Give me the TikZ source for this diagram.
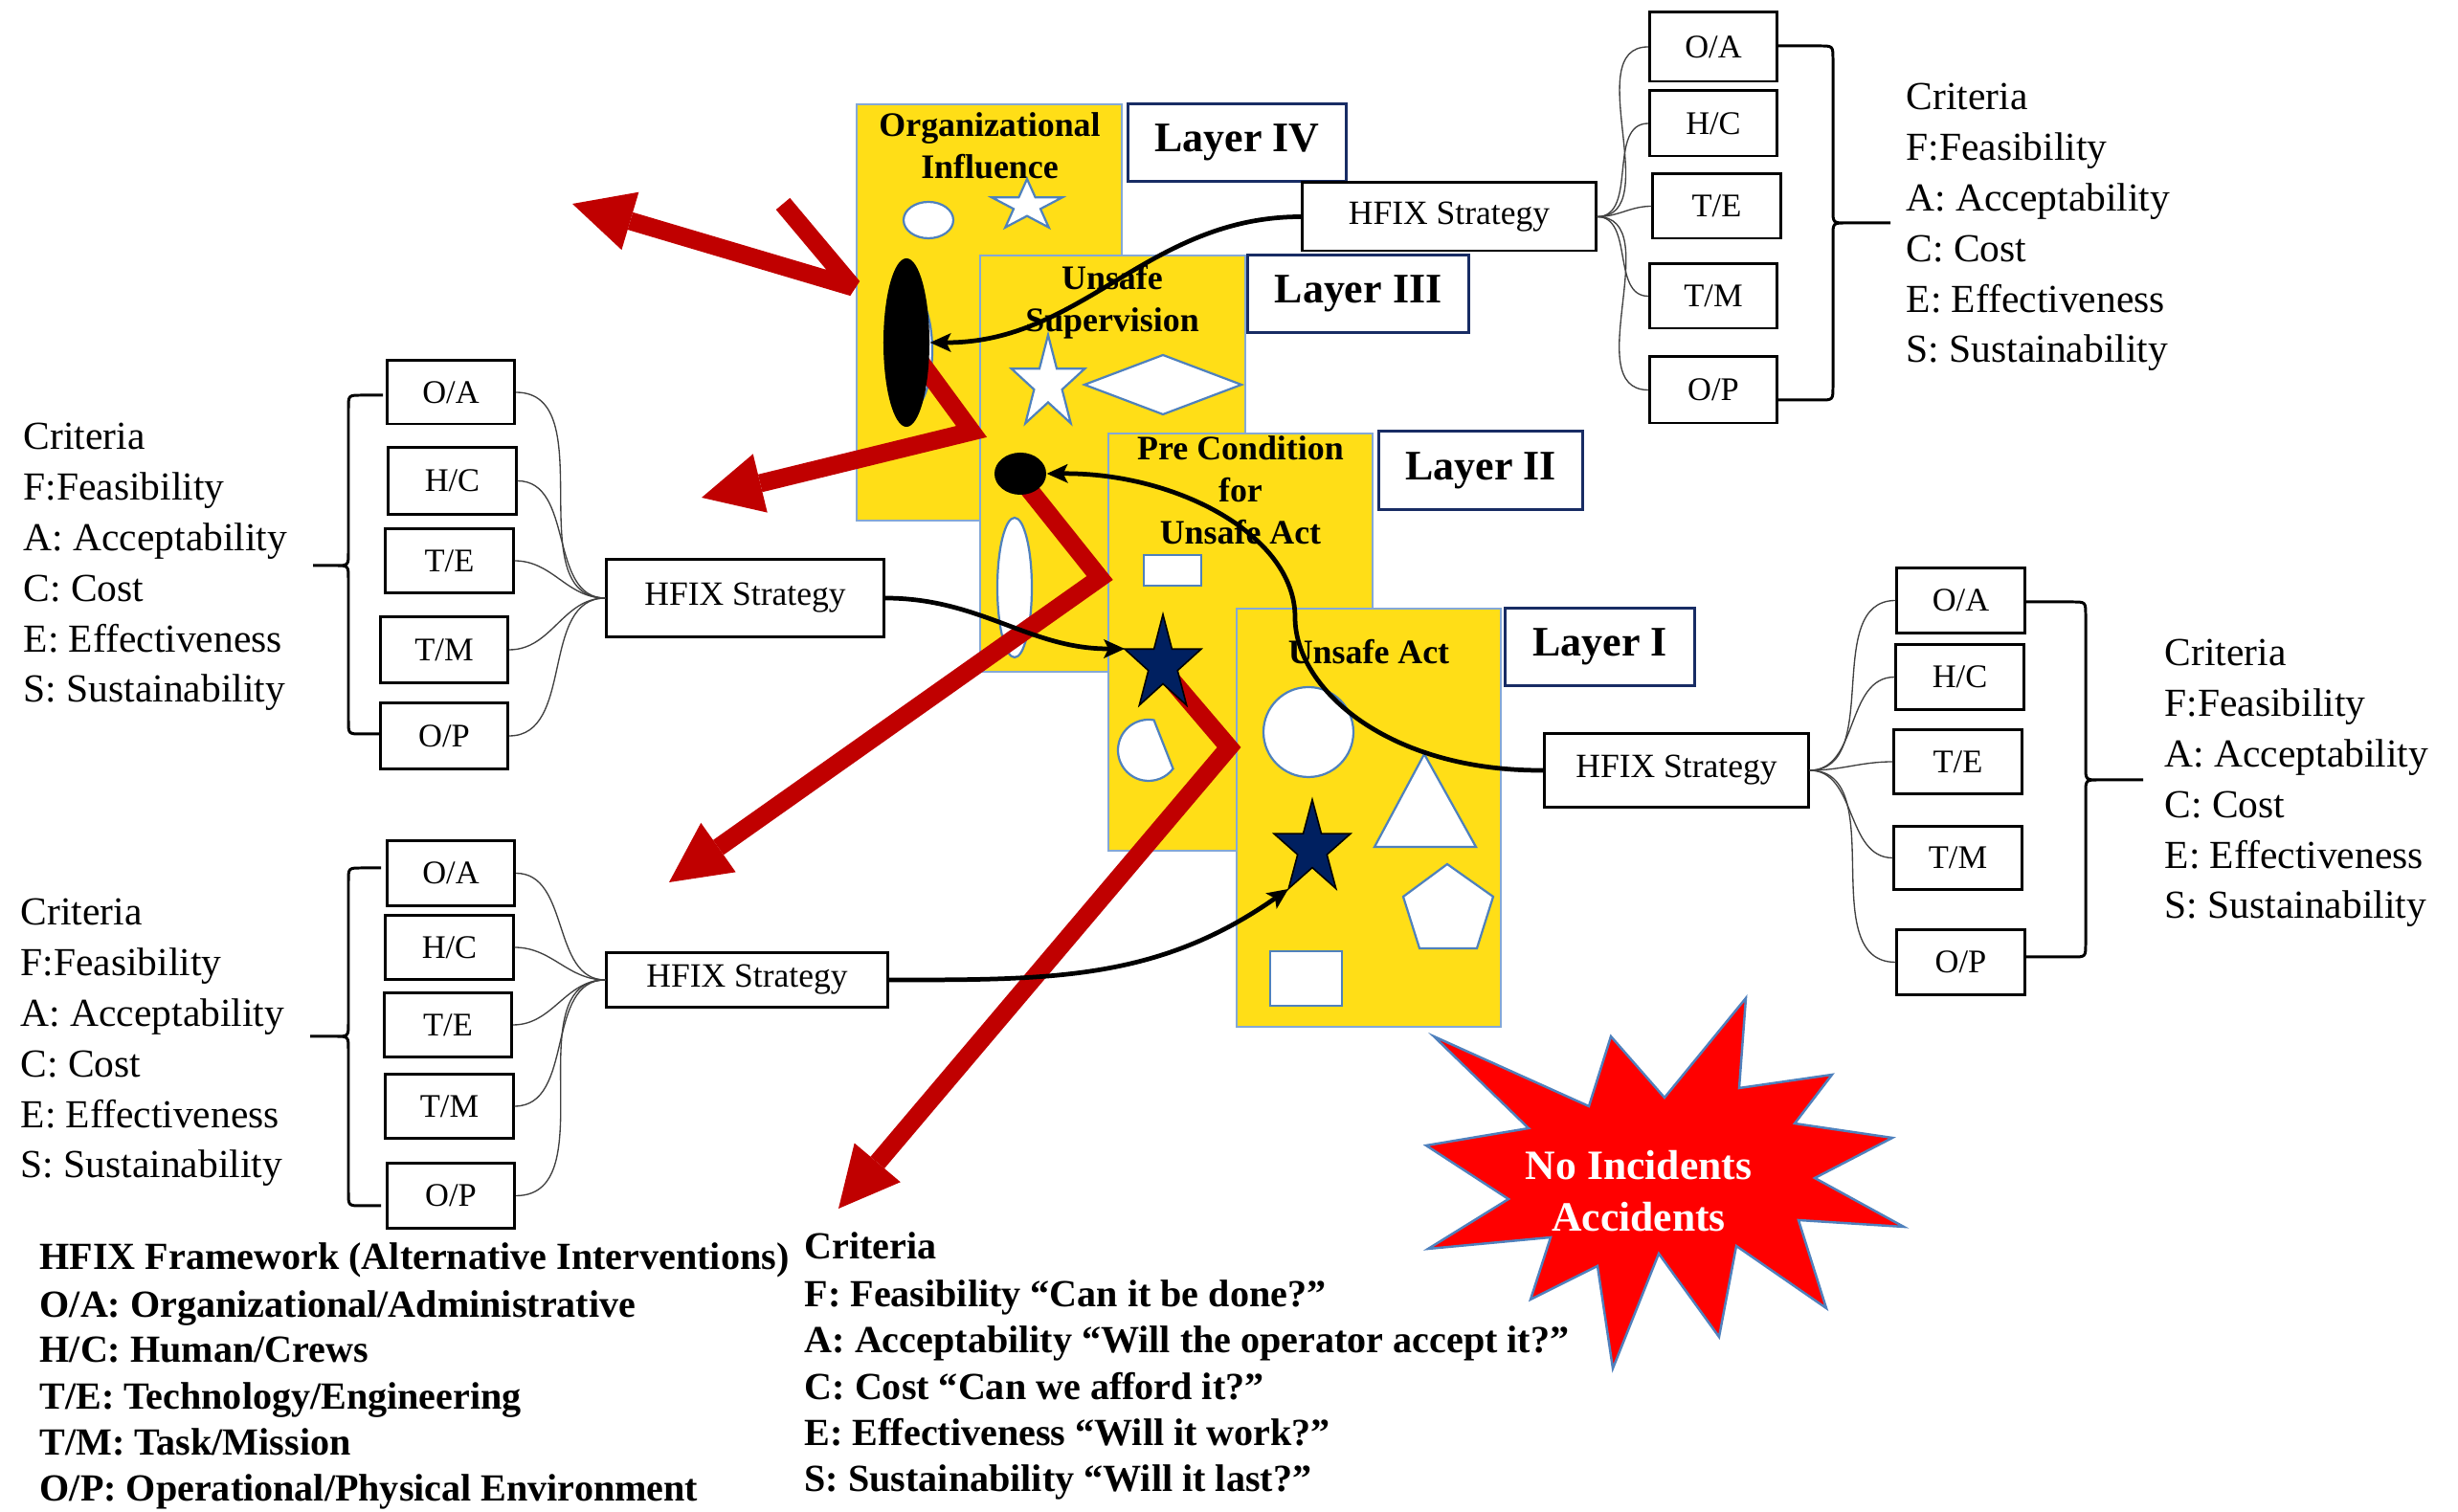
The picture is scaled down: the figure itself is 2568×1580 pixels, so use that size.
\documentclass[tikz,border=0pt]{standalone}
\usepackage{fontspec}
\setmainfont{Liberation Serif}
\usetikzlibrary{arrows.meta,shapes.geometric}

\definecolor{paneyellow}{RGB}{255,222,23}
\definecolor{paneedge}{RGB}{132,168,214}
\definecolor{shapeedge}{RGB}{79,129,189}
\definecolor{navyfill}{RGB}{0,32,96}
\definecolor{tagedge}{RGB}{24,44,100}
\definecolor{pathred}{RGB}{192,0,0}
\definecolor{burstred}{RGB}{255,0,0}

\tikzset{
  pane/.style={fill=paneyellow, draw=paneedge, line width=0.57pt},
  wshape/.style={fill=white, draw=shapeedge, line width=0.63pt},
  navystar/.style={fill=navyfill, draw=black, line width=0.45pt},
  layertag/.style={draw=tagedge, fill=white, line width=0.85pt, inner sep=0pt,
    font=\fontsize{12.5}{15}\selectfont\bfseries},
  hfix/.style={draw=black, fill=white, line width=0.85pt, inner sep=0pt,
    font=\fontsize{10.1}{12}\selectfont},
  optbox/.style={draw=black, fill=white, line width=0.85pt, inner sep=0pt,
    minimum width=1.33cm, font=\fontsize{9.8}{12}\selectfont},
  fan/.style={draw=black!75, line width=0.38pt},
  bracepath/.style={draw=black, line width=0.85pt},
  crittext/.style={font=\fontsize{11.8}{14}\selectfont, inner sep=0pt, anchor=base west},
  legendtext/.style={font=\fontsize{11.4}{13}\selectfont\bfseries, inner sep=0pt, anchor=base west},
  panetitle/.style={font=\fontsize{10.2}{12}\selectfont\bfseries, inner sep=0pt, anchor=base},
  bursttext/.style={font=\fontsize{12.4}{14}\selectfont\bfseries, text=white, inner sep=0pt, anchor=base},
  redpath/.style={draw=pathred, line width=5.4pt, miter limit=2.5,
    -{Triangle[length=0.63cm,width=0.63cm,line width=0pt]}},
  strategylink/.style={draw=black, line width=1.35pt,
    -{Stealth[length=0.22cm,width=0.2cm,inset=0.05cm,line width=0pt]}},
  burst/.style={fill=burstred, draw=shapeedge, line width=0.7pt},
}

% five-pointed star: centre x, centre y, outer radius, horizontal stretch, style
\newcommand\fivestar[5]{%
  \begin{scope}[shift={(#1,#2)}, x={(#4*0.01cm,0cm)}, y={(0cm,0.01cm)}]
    \path[#5] (90:#3) -- (126:{0.382*#3}) -- (162:#3) -- (198:{0.382*#3})
      -- (234:#3) -- (270:{0.382*#3}) -- (306:#3) -- (342:{0.382*#3})
      -- (18:#3) -- (54:{0.382*#3}) -- cycle;
  \end{scope}}

% curly bracket: x top end, x bottom end, x spine, x tip, y top, y tip, y bottom, side (+1 right / -1 left)
\newcommand\criteriabrace[8]{%
  \draw[bracepath] (#1,#5) -- ({#3-14*(#8)},#5) .. controls (#3,#5) .. (#3,{#5+14})
      -- (#3,{#6-14}) .. controls (#3,#6) .. ({#3+14*(#8)},#6) -- (#4,#6)
    (#4,#6) -- ({#3+14*(#8)},#6) .. controls (#3,#6) .. (#3,{#6+14})
      -- (#3,{#7-14}) .. controls (#3,#7) .. ({#3-14*(#8)},#7) -- (#2,#7);}

% criteria list: name prefix, left x, first baseline y
\newcommand\criteriatext[3]{%
  \foreach \txt [count=\ii from 0] in {Criteria,F:Feasibility,A: Acceptability,C: Cost,E: Effectiveness,S: Sustainability}
    \node[crittext] (#1-\ii) at (#2,{#3+52.8*\ii}) {\txt};}

\begin{document}
\begin{tikzpicture}[x=0.01cm, y=-0.01cm]
\fill[white] (0,0) rectangle (2568,1580);
\useasboundingbox (0,0) rectangle (2568,1580);

% ---- Layer IV pane: Organizational Influence
\path[pane] (895,109) rectangle (1172,544);
\node[panetitle] (t4a) at (1034,143) {Organizational};
\node[panetitle] (t4b) at (1034,187) {Influence};
\path[wshape] (970,230) ellipse[x radius=26, y radius=19];
\fivestar{1073}{215}{28}{1.38}{wshape}
\path[wshape] (951,366) ellipse[x radius=23, y radius=62];

% ---- Layer III pane: Unsafe Supervision
\path[pane] (1024,267) rectangle (1301,702);
\node[panetitle] (t3a) at (1162,303) {Unsafe};
\node[panetitle] (t3b) at (1162,347) {Supervision};
\fivestar{1095}{401}{51}{0.79}{wshape}
\path[wshape] (1133,402) -- (1215,371) -- (1297,402) -- (1215,433) -- cycle;
\path[wshape] (1060,614) ellipse[x radius=18, y radius=73];

% ---- Layer II pane: Pre Condition for Unsafe Act
\path[pane] (1158,453) rectangle (1434,889);
\node[panetitle] (t2a) at (1296,481) {Pre Condition};
\node[panetitle] (t2b) at (1296,525) {for};
\node[panetitle] (t2c) at (1296,569) {Unsafe Act};
\path[wshape] (1195,580) rectangle (1255,612);
\begin{scope}[shift={(1200,784)}, y={(0cm,0.01cm)}]
  \path[wshape] (80:32) arc[start angle=80, end angle=323, radius=32] -- cycle;
\end{scope}

% ---- Layer I pane: Unsafe Act
\path[pane] (1292,636) rectangle (1568,1073);
\node[panetitle] (t1a) at (1430,694) {Unsafe Act};
\path[wshape] (1367,765) circle[radius=47];
\path[wshape] (1488,788) -- (1542,885) -- (1436,885) -- cycle;
\path[wshape] (1512,903) -- (1560,937) -- (1543,991) -- (1483,991) -- (1466,937) -- cycle;
\path[wshape] (1327,994) rectangle (1402,1051);

% ---- accident trajectory through the holes
\coordinate (ra0) at (818,213);  \coordinate (ra1) at (891,300);  \coordinate (ra2) at (598,213);
\coordinate (rb0) at (960,376);  \coordinate (rb1) at (1015,451); \coordinate (rb2) at (733,520);
\coordinate (rc0) at (1066,500); \coordinate (rc1) at (1149,604); \coordinate (rc2) at (699,922);
\coordinate (rd0) at (1215,700); \coordinate (rd1) at (1284,781); \coordinate (rd2) at (876,1263);
\draw[redpath] (ra0) -- (ra1) -- (ra2);
\draw[redpath] (rb0) -- (rb1) -- (rb2);
\draw[redpath] (rc0) -- (rc1) -- (rc2);
\draw[redpath] (rd0) -- (rd1) -- (rd2);

% ---- active holes
\node[ellipse, fill=black, inner sep=0pt, minimum width=0.48cm, minimum height=1.76cm] (blkA) at (947,358) {};
\node[ellipse, fill=black, inner sep=0pt, minimum width=0.54cm, minimum height=0.44cm] (blkB) at (1066,495) {};
\fivestar{1215}{694.5}{52.5}{0.80}{navystar}
\fivestar{1371}{887}{51.4}{0.82}{navystar}
\coordinate (s2L) at (1175,678);
\coordinate (s1BL) at (1346,929);

% ---- layer tags
\node[layertag, minimum width=2.27cm, minimum height=0.80cm] (L4) at (1292.5,149) {Layer IV};
\node[layertag, minimum width=2.30cm, minimum height=0.80cm] (L3) at (1419,307) {Layer III};
\node[layertag, minimum width=2.12cm, minimum height=0.81cm] (L2) at (1547,491.5) {Layer II};
\node[layertag, minimum width=1.97cm, minimum height=0.80cm] (L1) at (1671.5,676) {Layer I};

% ---- HFIX strategy boxes
\node[hfix, minimum width=3.06cm, minimum height=0.71cm] (hT) at (1514,226.5) {HFIX Strategy};
\node[hfix, minimum width=2.89cm, minimum height=0.80cm] (hL) at (778.5,625) {HFIX Strategy};
\node[hfix, minimum width=2.93cm, minimum height=0.56cm] (hB) at (780.5,1024) {HFIX Strategy};
\node[hfix, minimum width=2.75cm, minimum height=0.76cm] (hR) at (1751.5,805) {HFIX Strategy};

% ---- intervention option boxes
\node[optbox, minimum height=0.72cm] (trOA) at (1790,49) {O/A};
\node[optbox, minimum height=0.68cm] (trHC) at (1790,129) {H/C};
\node[optbox, minimum height=0.67cm] (trTE) at (1793.5,215.5) {T/E};
\node[optbox, minimum height=0.67cm] (trTM) at (1790,309.5) {T/M};
\node[optbox, minimum height=0.69cm] (trOP) at (1790,407.5) {O/P};

\node[optbox, minimum height=0.67cm] (rOA) at (2048.5,627.5) {O/A};
\node[optbox, minimum height=0.67cm] (rHC) at (2047.5,707.5) {H/C};
\node[optbox, minimum height=0.66cm] (rTE) at (2045.5,796) {T/E};
\node[optbox, minimum height=0.65cm] (rTM) at (2045.5,896.5) {T/M};
\node[optbox, minimum height=0.67cm] (rOP) at (2048.5,1005.5) {O/P};

\node[optbox, minimum height=0.66cm] (lmOA) at (471,410) {O/A};
\node[optbox, minimum height=0.69cm] (lmHC) at (472.5,502.5) {H/C};
\node[optbox, minimum height=0.66cm] (lmTE) at (469.5,586) {T/E};
\node[optbox, minimum height=0.68cm] (lmTM) at (464,679) {T/M};
\node[optbox, minimum height=0.68cm] (lmOP) at (464,769) {O/P};

\node[optbox, minimum height=0.67cm] (lbOA) at (471,912.5) {O/A};
\node[optbox, minimum height=0.66cm] (lbHC) at (469.5,990) {H/C};
\node[optbox, minimum height=0.66cm] (lbTE) at (468,1071) {T/E};
\node[optbox, minimum height=0.66cm] (lbTM) at (469.5,1156) {T/M};
\node[optbox, minimum height=0.67cm] (lbOP) at (471,1249.5) {O/P};

% ---- fan lines from each strategy to its options
\foreach \b in {trOA,trHC,trTE,trTM,trOP} \draw[fan] (hT.east) to[out=0,in=180] (\b.west);
\foreach \b in {rOA,rHC,rTE,rTM,rOP} \draw[fan] (hR.east) to[out=0,in=180] (\b.west);
\foreach \b in {lmOA,lmHC,lmTE,lmTM,lmOP} \draw[fan] (\b.east) to[out=0,in=180] (hL.west);
\foreach \b in {lbOA,lbHC,lbTE,lbTM,lbOP} \draw[fan] (\b.east) to[out=0,in=180] (hB.west);

% ---- brackets and criteria lists
\criteriabrace{1856}{1856}{1915}{1975}{48}{233}{418}{1}
\criteriabrace{2115}{2115}{2179}{2239}{629}{815}{1000}{1}
\criteriabrace{400}{397}{364}{327}{413}{591}{767}{-1}
\criteriabrace{398}{398}{364}{324}{907}{1083}{1260}{-1}
\criteriatext{ctr}{1991}{115}
\criteriatext{cr}{2261}{696}
\criteriatext{clm}{24}{470}
\criteriatext{clb}{21}{967}

% ---- strategies acting on the holes
\draw[strategylink] (hT.west) to[out=180,in=0] (blkA.east);
\draw[strategylink] (hL.east) to[out=0,in=180] (s2L);
\draw[strategylink] (hR.west) .. controls (1450,806) and (1353,720) .. (1353,645)
  .. controls (1353,560) and (1230,494) .. (blkB.east);
\draw[strategylink] (hB.east) to[out=0,in=215] (s1BL);

% ---- outcome burst
\path[burst] (1824,1043) -- (1817,1137) -- (1914,1123) -- (1875,1174) -- (1977,1189)
  -- (1896,1231) -- (1989,1282) -- (1879,1275) -- (1908,1367) -- (1814,1302)
  -- (1796,1397) -- (1733,1310) -- (1685,1430) -- (1669,1323) -- (1599,1358)
  -- (1620,1293) -- (1492,1305) -- (1576,1253) -- (1490,1197) -- (1597,1179)
  -- (1498,1083) -- (1660,1156) -- (1683,1083) -- (1739,1147) -- cycle;
\node[bursttext] (nb1) at (1712,1233) {No Incidents};
\node[bursttext] (nb2) at (1712,1287) {Accidents};

% ---- legends
\node[legendtext] (lg0) at (41,1327) {HFIX Framework (Alternative Interventions)};
\node[legendtext] (lg1) at (41,1377) {O/A: Organizational/Administrative};
\node[legendtext] (lg2) at (41,1424) {H/C: Human/Crews};
\node[legendtext] (lg3) at (41,1473) {T/E: Technology/Engineering};
\node[legendtext] (lg4) at (41,1521) {T/M: Task/Mission};
\node[legendtext] (lg5) at (41,1569) {O/P: Operational/Physical Environment};

\node[legendtext] (cq0) at (840,1316) {Criteria};
\node[legendtext] (cq1) at (840,1366) {F: Feasibility “Can it be done?”};
\node[legendtext] (cq2) at (840,1414) {A: Acceptability “Will the operator accept it?”};
\node[legendtext] (cq3) at (840,1463) {C: Cost “Can we afford it?”};
\node[legendtext] (cq4) at (840,1511) {E: Effectiveness “Will it work?”};
\node[legendtext] (cq5) at (840,1559) {S: Sustainability “Will it last?”};
\end{tikzpicture}
\end{document}
